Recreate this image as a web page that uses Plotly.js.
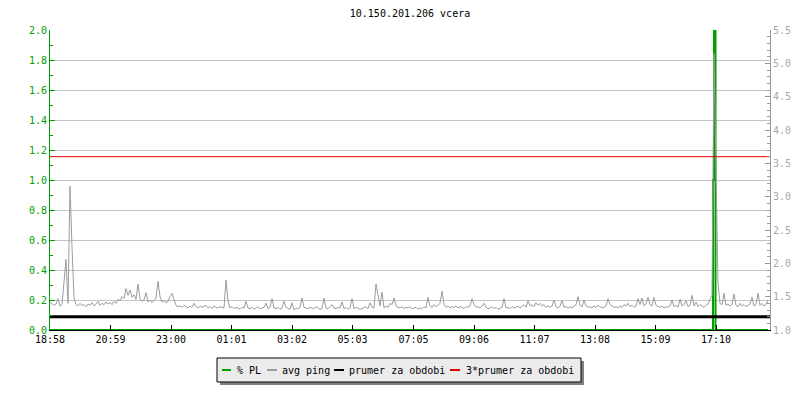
<!DOCTYPE html>
<html><head><meta charset="utf-8">
<script src="https://cdn.plot.ly/plotly-3.0.1.min.js"></script>
<style>html,body{margin:0;padding:0;background:#fff}</style>
</head><body><div id="chart" style="width:800px;height:400px"></div>
<script>
// ---- data ----
const chartTitle = '10.150.201.206 vcera';
const startLabel = '18:58';
const tickLabels = ['18:58','20:59','23:00','01:01','03:02','05:03','07:05','09:06','11:07','13:08','15:09','17:10'];
const seriesNames = ['% PL', 'avg ping', 'prumer za obdobi', '3*prumer za obdobi'];
const sampleStepMin = 4;      // minutes between avg ping samples
const periodMin = 1440;       // 24 h window
const avgPing = [
1.42,1.40,1.37,1.39,1.47,1.36,1.38,1.72,2.06,1.40,
3.16,2.24,1.49,1.38,1.36,1.40,1.37,1.38,1.35,1.39,
1.37,1.41,1.36,1.39,1.43,1.37,1.40,1.38,1.42,1.39,
1.41,1.38,1.43,1.40,1.46,1.44,1.50,1.47,1.62,1.52,
1.60,1.49,1.53,1.46,1.69,1.47,1.43,1.45,1.56,1.42,
1.45,1.41,1.44,1.48,1.73,1.50,1.42,1.44,1.41,1.43,
1.50,1.55,1.46,1.37,1.35,1.36,1.34,1.37,1.35,1.33,
1.36,1.34,1.40,1.35,1.33,1.36,1.34,1.35,1.37,1.33,
1.35,1.32,1.36,1.34,1.33,1.35,1.34,1.33,1.75,1.43,
1.33,1.35,1.32,1.34,1.33,1.31,1.34,1.33,1.43,1.33,
1.32,1.34,1.31,1.33,1.35,1.32,1.33,1.34,1.40,1.32,
1.34,1.47,1.33,1.32,1.34,1.31,1.33,1.43,1.34,1.32,
1.31,1.41,1.30,1.33,1.32,1.34,1.48,1.34,1.33,1.32,
1.34,1.33,1.32,1.35,1.33,1.31,1.32,1.48,1.33,1.32,
1.35,1.38,1.33,1.32,1.34,1.33,1.42,1.32,1.34,1.31,
1.33,1.47,1.32,1.34,1.33,1.31,1.32,1.33,1.35,1.32,
1.41,1.34,1.33,1.69,1.50,1.36,1.57,1.33,1.36,1.34,
1.40,1.38,1.48,1.36,1.34,1.33,1.35,1.32,1.34,1.33,
1.35,1.32,1.33,1.34,1.31,1.33,1.32,1.35,1.33,1.49,
1.36,1.34,1.38,1.35,1.37,1.40,1.58,1.38,1.34,1.36,
1.33,1.35,1.34,1.36,1.33,1.35,1.34,1.32,1.35,1.34,
1.36,1.47,1.38,1.34,1.35,1.33,1.36,1.40,1.34,1.32,
1.33,1.35,1.32,1.34,1.31,1.33,1.34,1.47,1.33,1.34,
1.32,1.35,1.33,1.34,1.36,1.33,1.35,1.38,1.34,1.44,
1.36,1.38,1.35,1.41,1.37,1.40,1.36,1.38,1.34,1.36,
1.34,1.36,1.45,1.35,1.33,1.36,1.44,1.34,1.35,1.33,
1.35,1.33,1.36,1.38,1.50,1.37,1.35,1.45,1.36,1.34,
1.35,1.33,1.36,1.34,1.37,1.35,1.33,1.34,1.36,1.47,
1.38,1.36,1.34,1.35,1.33,1.36,1.34,1.38,1.36,1.40,
1.35,1.37,1.34,1.36,1.47,1.38,1.48,1.36,1.39,1.49,
1.38,1.36,1.49,1.37,1.35,1.34,1.36,1.33,1.35,1.34,
1.36,1.45,1.35,1.37,1.34,1.46,1.36,1.38,1.44,1.35,
1.37,1.52,1.36,1.42,1.35,1.38,1.36,1.34,1.37,1.39,
1.46,1.52,5.15,3.65,1.70,1.40,1.38,1.55,1.37,1.39,
1.36,1.38,1.54,1.37,1.35,1.40,1.36,1.38,1.35,1.37,
1.39,1.49,1.36,1.38,1.55,1.37,1.40,1.36,1.38,1.45
];
// packet loss (%): zero except around 17:10
const plTimesMin = [0, 1326, 1328, 1331, 1436];
const plValues   = [0, 1.0, 3.0, 0, 0];
const meanPing = 1.2;
const meanPing3 = 3.6;

// ---- derived ----
function toMin(s){ const p = s.split(':'); return (+p[0])*60 + (+p[1]); }
const startMin = toMin(startLabel);
const tickVals = tickLabels.map(l => (toMin(l) - startMin + 1440) % 1440);
const pingTimes = avgPing.map((_, i) => i * sampleStepMin);

const GREEN = '#00a000', GRAY = '#9c9c9c', BLACK = '#000000', RED = '#e00000';
const colors = [GREEN, GRAY, BLACK, RED];
const FONT = 'DejaVu Sans Mono';

const traces = [
  {x: plTimesMin, y: plValues, name: seriesNames[0], type: 'scatter', mode: 'lines',
   line: {color: GREEN, width: 2, shape: 'hv'}, yaxis: 'y', showlegend: false, hoverinfo: 'skip'},
  {x: pingTimes, y: avgPing, name: seriesNames[1], type: 'scatter', mode: 'lines',
   line: {color: GRAY, width: 1}, yaxis: 'y2', showlegend: false, hoverinfo: 'skip'},
  {x: [0, periodMin], y: [meanPing, meanPing], name: seriesNames[2], type: 'scatter', mode: 'lines',
   line: {color: BLACK, width: 3}, yaxis: 'y2', showlegend: false, hoverinfo: 'skip'},
  {x: [0, periodMin], y: [meanPing3, meanPing3], name: seriesNames[3], type: 'scatter', mode: 'lines',
   line: {color: RED, width: 1}, yaxis: 'y2', showlegend: false, hoverinfo: 'skip'}
];

// ---- custom legend (RRD style box with shadow) ----
const L = 50, T = 30, W = 720, H = 300;
const px = x => (x - L) / W;
const py = y => (T + H - y) / H;
const box = {x0: 217, y0: 358, x1: 581, y1: 382};
const items = [ [222, 231, 235], [267, 277, 280], [334, 344, 347], [450, 460, 464] ];
const legY = 370;
const shapes = [
  {type: 'rect', xref: 'paper', yref: 'paper', x0: px(box.x0 + 3), x1: px(box.x1 + 3), y0: py(box.y0 + 3), y1: py(box.y1 + 3),
   fillcolor: '#808080', line: {width: 0}},
  {type: 'rect', xref: 'paper', yref: 'paper', x0: px(box.x0), x1: px(box.x1), y0: py(box.y0), y1: py(box.y1),
   fillcolor: '#ebebeb', line: {color: '#000', width: 1}}
];
const annotations = [];
items.forEach((it, k) => {
  shapes.push({type: 'line', xref: 'paper', yref: 'paper', x0: px(it[0]), x1: px(it[1]), y0: py(legY), y1: py(legY),
    line: {color: colors[k], width: 2}});
  annotations.push({xref: 'paper', yref: 'paper', x: px(it[2]), y: py(legY), xanchor: 'left', yanchor: 'middle',
    text: seriesNames[k], showarrow: false, font: {family: FONT, size: 10, color: '#000'}});
});

const layout = {
  width: 800, height: 400,
  margin: {l: L, r: 800 - L - W, t: T, b: 400 - T - H},
  paper_bgcolor: '#fff', plot_bgcolor: '#fff',
  showlegend: false,
  title: {text: chartTitle, font: {family: FONT, size: 10, color: '#000'},
          x: 0.5, xref: 'paper', y: 1 - 13/400, yref: 'container', yanchor: 'middle'},
  xaxis: {range: [0, periodMin], tickvals: tickVals, ticktext: tickLabels,
          ticks: 'inside', ticklen: 5, tickcolor: '#000', tickwidth: 1,
          showline: true, linecolor: '#000', linewidth: 1, showgrid: false, zeroline: false,
          tickfont: {family: FONT, size: 10, color: '#000'}},
  yaxis: {range: [0, 2], dtick: 0.2, tick0: 0, tickformat: '.1f',
          ticks: 'inside', ticklen: 5, tickcolor: GREEN, tickwidth: 1,
          showline: true, linecolor: GREEN, linewidth: 1,
          showgrid: true, gridcolor: '#c4c4c4', gridwidth: 1, zeroline: false,
          tickfont: {family: FONT, size: 10, color: GREEN},
          minor: {dtick: 0.1, ticks: 'inside', ticklen: 3, tickcolor: GREEN, showgrid: false}},
  yaxis2: {range: [1, 5.5], dtick: 0.5, tick0: 1, tickformat: '.1f', overlaying: 'y', side: 'right',
          ticks: 'inside', ticklen: 5, tickcolor: '#999', tickwidth: 1,
          showline: true, linecolor: '#999', linewidth: 1, showgrid: false, zeroline: false,
          tickfont: {family: FONT, size: 10, color: '#a8a8a8'},
          minor: {dtick: 0.1, ticks: 'inside', ticklen: 3, tickcolor: '#999', showgrid: false}},
  shapes: shapes,
  annotations: annotations
};

Plotly.newPlot('chart', traces, layout, {staticPlot: true, displayModeBar: false});
</script>
</body></html>
